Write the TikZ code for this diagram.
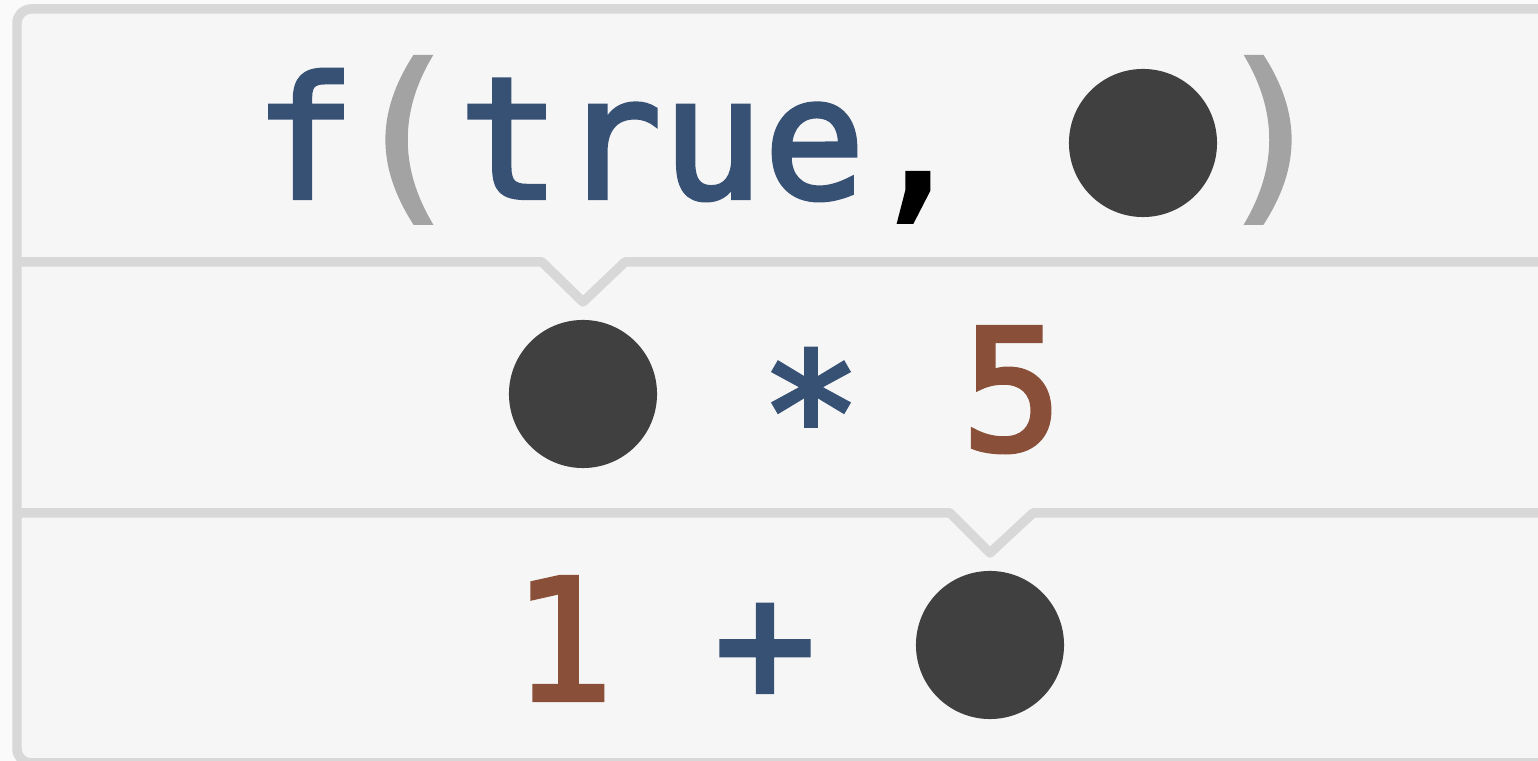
\documentclass[tikz,border=0pt]{standalone}
\usepackage{fontspec}
\newfontfamily\codefont{DejaVu Sans Mono}[FakeBold=2.5]
\usepackage{xcolor}
\definecolor{codeblue}{HTML}{375175}
\definecolor{codebrown}{HTML}{8A4F38}
\definecolor{parengrey}{HTML}{A3A3A3}
\definecolor{holegrey}{HTML}{404040}
\definecolor{framegrey}{HTML}{D8D8D8}
\definecolor{panelbg}{HTML}{F6F6F6}
\definecolor{pagebg}{HTML}{FAFAFA}
\usepackage{tikz}
\tikzset{
  code/.style={inner sep=0pt, font=\codefont\fontsize{48}{58}\selectfont},
  paren/.style={code, parengrey, anchor=base},
  hole/.style={circle, fill=holegrey, minimum size=1.48cm, inner sep=0pt},
  rule/.style={framegrey, line width=2.7pt, line join=round},
}

\begin{document}
\begin{tikzpicture}[x=0.01cm, y=-0.01cm]
  \useasboundingbox (0,0) rectangle (1538,761);
  \fill[pagebg] (0,0) rectangle (1538,761);

  % panel and its frame (open on the right)
  \fill[panelbg] (17,9) rectangle (1560,770);
  \draw[rule, rounded corners=4pt] (1560,9) -- (17,9) -- (17,763) -- (1560,763);

  % separators with the notch pointing at the hole below
  \draw[rule] (17,262) -- (542,262) -- (583,302) -- (625,262) -- (1560,262);
  \draw[rule] (17,513) -- (950,513) -- (990,553) -- (1033,513) -- (1560,513);

  % top row: f(true, _)
  \node[code, codeblue, anchor=base] (fname) at (305,198) {f};
  \node[paren] (lparen) at (405,198) {\scalebox{1.1}{(}};
  \node[code, codeblue, anchor=base] (arg) at (662,198) {true};
  \node[code, black, anchor=base] (comma) at (917,198) {,};
  \node[hole] (hole1) at (1143,143) {};
  \node[paren] (rparen) at (1272,198) {\scalebox{1.1}{)}};

  % middle row: _ * 5
  \node[hole] (hole2) at (583,394) {};
  \node[code, codeblue, anchor=north] (times) at (811,348) {*};
  \node[code, codebrown, anchor=base] (five) at (1012,450) {5};

  % bottom row: 1 + _
  \node[code, codebrown, anchor=base] (one) at (563,700) {1};
  \node[code, codeblue, anchor=north] (plus) at (765,604) {+};
  \node[hole] (hole3) at (990,645) {};
\end{tikzpicture}
\end{document}
